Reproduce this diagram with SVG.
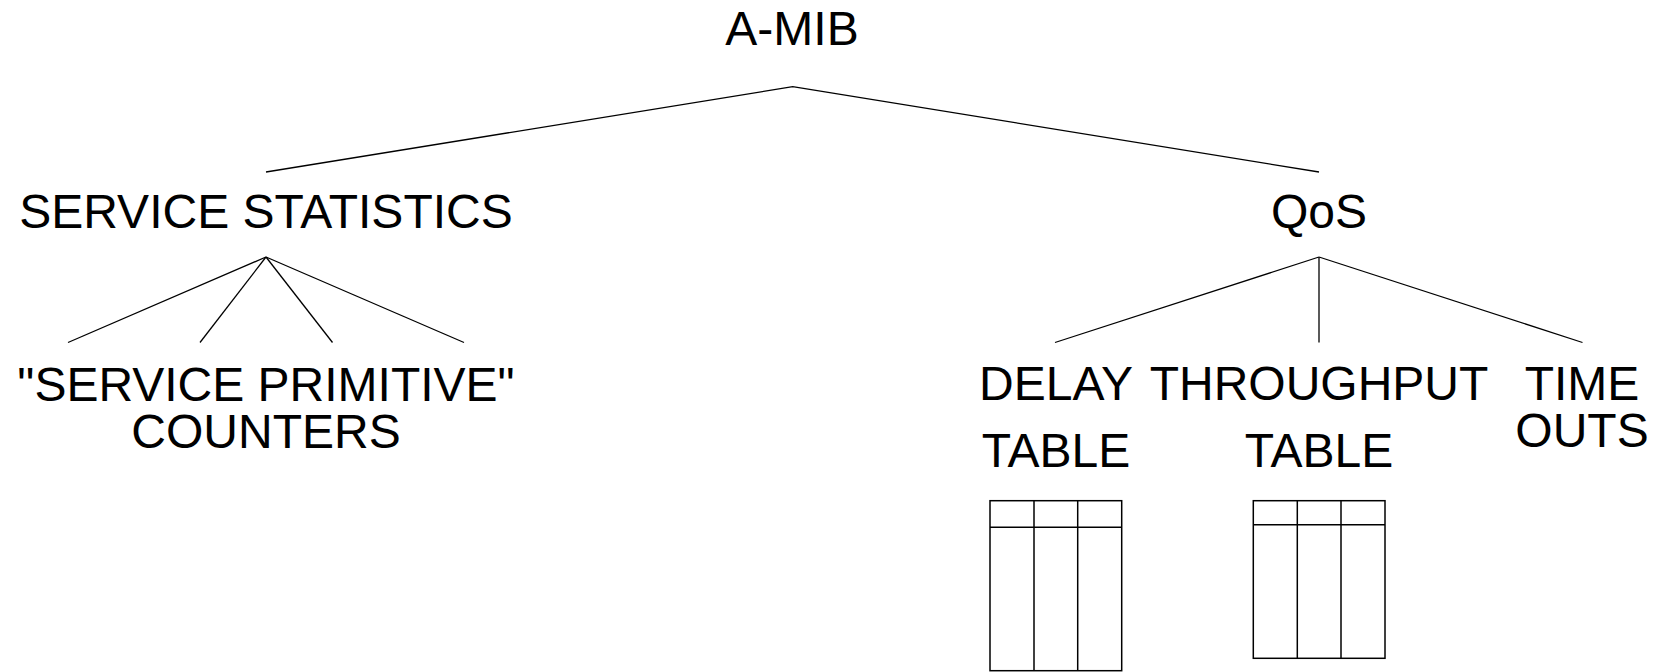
<svg xmlns="http://www.w3.org/2000/svg" width="1657" height="672" viewBox="0 0 1657 672">
<style>
text{font-family:"Liberation Sans",Arial,Helvetica,sans-serif;font-size:48px;fill:#000;text-anchor:middle}
.c{stroke:#000;stroke-width:1.3;fill:none}
.t{stroke:#000;stroke-width:1.5;fill:none}
</style>
<rect width="1657" height="672" fill="#fff"/>
<g id="connectors">
<polyline class="c" points="266,172 792.7,86.7 1319,172"/>
<line class="c" x1="266" y1="257" x2="68" y2="342.5"/>
<line class="c" x1="266" y1="257" x2="200" y2="342.5"/>
<line class="c" x1="266" y1="257" x2="332.5" y2="342.5"/>
<line class="c" x1="266" y1="257" x2="464" y2="342.5"/>
<line class="c" x1="1319" y1="257" x2="1055" y2="342.5"/>
<line class="c" x1="1319" y1="257" x2="1319" y2="342.5"/>
<line class="c" x1="1319" y1="257" x2="1582.5" y2="342.5"/>
</g>
<g id="a-mib"><text x="792" y="45">A-MIB</text></g>
<g id="service-statistics"><text x="266" y="228">SERVICE STATISTICS</text></g>
<g id="qos"><text x="1319" y="228">QoS</text></g>
<g id="service-primitive-counters">
<text x="266" y="401">"SERVICE PRIMITIVE"</text>
<text x="266" y="448">COUNTERS</text>
</g>
<g id="delay-table">
<text x="1056" y="400">DELAY</text>
<text x="1056" y="467">TABLE</text>
<rect class="t" x="990" y="500.7" width="131.7" height="170"/>
<line class="t" x1="990" y1="527.3" x2="1121.7" y2="527.3"/>
<line class="t" x1="1034" y1="500.7" x2="1034" y2="670.7"/>
<line class="t" x1="1077.7" y1="500.7" x2="1077.7" y2="670.7"/>
</g>
<g id="throughput-table">
<text x="1319" y="400">THROUGHPUT</text>
<text x="1319" y="467">TABLE</text>
<rect class="t" x="1253.3" y="500.7" width="131.7" height="157.6"/>
<line class="t" x1="1253.3" y1="524.7" x2="1385" y2="524.7"/>
<line class="t" x1="1297.3" y1="500.7" x2="1297.3" y2="658.3"/>
<line class="t" x1="1341" y1="500.7" x2="1341" y2="658.3"/>
</g>
<g id="time-outs">
<text x="1582" y="400">TIME</text>
<text x="1582" y="447">OUTS</text>
</g>
</svg>
